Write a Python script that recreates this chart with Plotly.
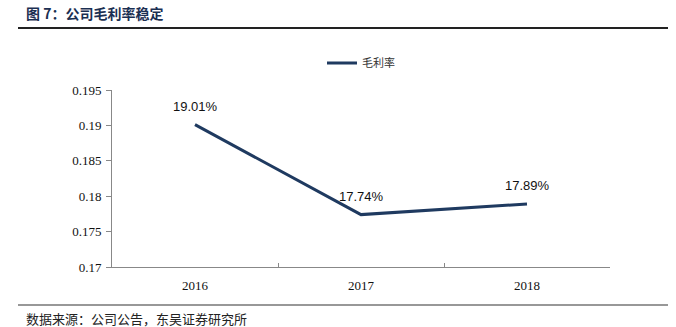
import plotly.graph_objects as go

# Gross margin by year
years = ["2016", "2017", "2018"]
gross_margin = [0.1901, 0.1774, 0.1789]
labels = ["19.01%", "17.74%", "17.89%"]
y_ticks = [0.17, 0.175, 0.18, 0.185, 0.19, 0.195]
y_tick_text = ["0.17", "0.175", "0.18", "0.185", "0.19", "0.195"]

W, H = 676, 327
L, R, T, B = 112, 66, 90, 60
navy = "#1f3a60"

fig = go.Figure()
fig.add_trace(go.Scatter(
    x=years, y=gross_margin, mode="lines", name="毛利率",
    line=dict(color=navy, width=3), showlegend=True,
))

# value labels above each point (category index positions)
for i, (y, t) in enumerate(zip(gross_margin, labels)):
    fig.add_annotation(x=i, y=y, text=t, showarrow=False, xref="x", yref="y",
                       yshift=18, font=dict(family="Liberation Sans, Arial", size=13, color="#111"))

def px_x(p):
    return (p - L) / (W - L - R)

def px_y(p):
    return (H - B - p) / (H - T - B)

# Heading, rules and source note
fig.add_annotation(x=px_x(24), y=px_y(13), xref="paper", yref="paper", xanchor="left", yanchor="middle",
                   text="<b>图 7：公司毛利率稳定</b>", showarrow=False,
                   font=dict(family="Noto Sans CJK SC", size=14, color="#1b2f52"))
fig.add_annotation(x=px_x(24), y=px_y(318), xref="paper", yref="paper", xanchor="left", yanchor="middle",
                   text="数据来源：公司公告，东吴证券研究所", showarrow=False,
                   font=dict(family="Noto Sans CJK SC", size=13, color="#222"))
fig.add_shape(type="line", xref="paper", yref="paper", x0=px_x(18), x1=px_x(668), y0=px_y(28), y1=px_y(28),
              line=dict(color="#222", width=2))
fig.add_shape(type="line", xref="paper", yref="paper", x0=px_x(18), x1=px_x(668), y0=px_y(305), y1=px_y(305),
              line=dict(color="#333", width=1.2))

fig.update_layout(
    width=W, height=H,
    margin=dict(l=L, r=R, t=T, b=B),
    paper_bgcolor="white", plot_bgcolor="white",
    legend=dict(orientation="h", x=0.5, xanchor="center", y=px_y(63), yanchor="middle",
                font=dict(family="Noto Sans CJK SC", size=11, color="#333"),
                itemwidth=30, bgcolor="rgba(0,0,0,0)"),
    xaxis=dict(type="category", range=[-0.5, 2.5], showline=True, linecolor="#888", linewidth=1,
               ticks="inside", tickson="boundaries", ticklen=4, tickcolor="#888",
               showgrid=False, zeroline=False, tickangle=0, ticklabelstandoff=6,
               tickfont=dict(family="Liberation Serif, Times New Roman", size=13, color="#111")),
    yaxis=dict(range=[0.17, 0.195], tickvals=y_ticks, ticktext=y_tick_text,
               showline=True, linecolor="#888", linewidth=1,
               ticks="outside", ticklen=5, tickcolor="#888",
               showgrid=False, zeroline=False, ticklabelstandoff=2,
               tickfont=dict(family="Liberation Serif, Times New Roman", size=13, color="#111")),
)

fig.write_html("out.html")
